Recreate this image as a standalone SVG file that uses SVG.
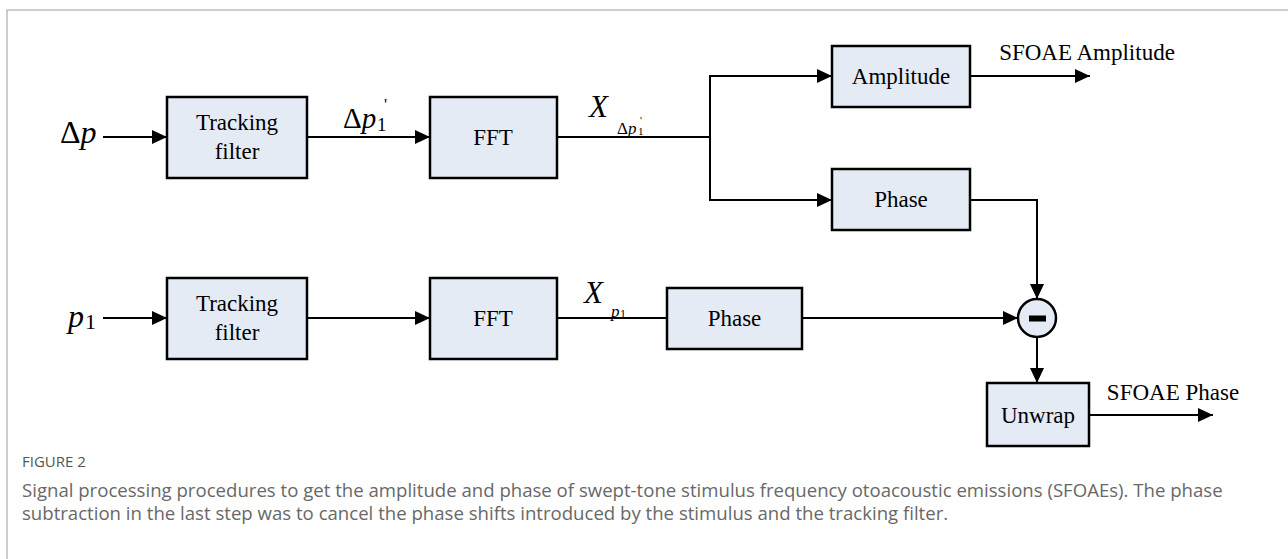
<svg xmlns="http://www.w3.org/2000/svg" width="1288" height="559" viewBox="0 0 1288 559">
<defs>
<marker id="arr" markerUnits="userSpaceOnUse" markerWidth="16" markerHeight="14" refX="15" refY="7" orient="auto">
<path d="M0,0 L15,7 L0,14 Z" fill="#000"/>
</marker>
<style>
.box{fill:#e5ebf5;stroke:#000;stroke-width:2.5}
.lbl{font-family:"Liberation Serif","Times New Roman",serif;font-size:23px;fill:#000;text-anchor:middle}
.math{font-family:"Liberation Serif","Times New Roman",serif;fill:#000}
.it{font-style:italic}
.wire{fill:none;stroke:#000;stroke-width:2}
.cap{font-family:"Open Sans","Liberation Sans",sans-serif;fill:#686868}
</style>
</defs>
<rect width="1288" height="559" fill="#fff"/>
<path d="M7,559 V10 H1288" fill="none" stroke="#bdbdbd" stroke-width="1.5"/>

<g id="connectors">
<path class="wire" d="M103,137 H167" marker-end="url(#arr)"/>
<path class="wire" d="M307,137 H430" marker-end="url(#arr)"/>
<path class="wire" d="M557,137 H710"/>
<path class="wire" d="M710,200 V76 H832" marker-end="url(#arr)"/>
<path class="wire" d="M710,137 V200 H832" marker-end="url(#arr)"/>
<path class="wire" d="M970,76 H1090" marker-end="url(#arr)"/>
<path class="wire" d="M970,200 H1037 V299" marker-end="url(#arr)"/>
<path class="wire" d="M103,318 H167" marker-end="url(#arr)"/>
<path class="wire" d="M307,318 H430" marker-end="url(#arr)"/>
<path class="wire" d="M557,318 H667"/>
<path class="wire" d="M802,318 H1018" marker-end="url(#arr)"/>
<path class="wire" d="M1037,337 V383" marker-end="url(#arr)"/>
<path class="wire" d="M1089,415 H1213" marker-end="url(#arr)"/>
</g>

<g id="in-dp">
<text class="math" x="60" y="143" font-size="32">Δ<tspan class="it">p</tspan></text>
</g>
<g id="in-p1">
<text class="math" x="68" y="327" font-size="32"><tspan class="it">p</tspan></text>
<text class="math" x="85" y="329" font-size="22">1</text>
</g>

<g id="tf1">
<rect class="box" x="167" y="97" width="140" height="81"/>
<text class="lbl" x="237" y="130">Tracking</text>
<text class="lbl" x="237" y="159">filter</text>
</g>
<g id="lbl-dp1">
<text class="math" x="343" y="128" font-size="29">Δ<tspan class="it">p</tspan></text>
<text class="math" x="377" y="131" font-size="19">1</text>
<text class="math" x="384" y="110" font-size="17">'</text>
</g>
<g id="fft1">
<rect class="box" x="430" y="97" width="127" height="81"/>
<text class="lbl" x="493" y="145">FFT</text>
</g>
<g id="lbl-x1">
<text class="math it" x="589" y="117" font-size="31">X</text>
<text class="math" x="617" y="134" font-size="17">Δ<tspan class="it">p</tspan></text>
<text class="math" x="638" y="135" font-size="11">1</text>
<text class="math" x="640" y="124" font-size="11">'</text>
</g>
<g id="amp">
<rect class="box" x="832" y="46" width="138" height="61"/>
<text class="lbl" x="901" y="84">Amplitude</text>
</g>
<text class="lbl" x="1087" y="60">SFOAE Amplitude</text>
<g id="phase1">
<rect class="box" x="832" y="169" width="138" height="61"/>
<text class="lbl" x="901" y="207">Phase</text>
</g>

<g id="tf2">
<rect class="box" x="167" y="278" width="140" height="81"/>
<text class="lbl" x="237" y="311">Tracking</text>
<text class="lbl" x="237" y="340">filter</text>
</g>
<g id="fft2">
<rect class="box" x="430" y="278" width="127" height="81"/>
<text class="lbl" x="493" y="326">FFT</text>
</g>
<g id="lbl-x2">
<text class="math it" x="584" y="303" font-size="31">X</text>
<text class="math" x="611" y="317" font-size="17"><tspan class="it">p</tspan></text>
<text class="math" x="620" y="318" font-size="12">1</text>
</g>
<g id="phase2">
<rect class="box" x="667" y="288" width="135" height="61"/>
<text class="lbl" x="734.5" y="326">Phase</text>
</g>
<g id="sub">
<circle cx="1037" cy="318" r="19" fill="#e5ebf5" stroke="#000" stroke-width="2.5"/>
<rect x="1029" y="315.5" width="17" height="6" fill="#000"/>
</g>
<g id="unwrap">
<rect class="box" x="987" y="383" width="102" height="63"/>
<text class="lbl" x="1038" y="423">Unwrap</text>
</g>
<text class="lbl" x="1173" y="400">SFOAE Phase</text>

<g id="caption">
<text class="cap" x="22" y="467" font-size="15" style="fill:#555">FIGURE 2</text>
<text class="cap" x="22" y="497" font-size="18.6">Signal processing procedures to get the amplitude and phase of swept-tone stimulus frequency otoacoustic emissions (SFOAEs). The phase</text>
<text class="cap" x="22" y="520" font-size="18.6">subtraction in the last step was to cancel the phase shifts introduced by the stimulus and the tracking filter.</text>
</g>
</svg>
